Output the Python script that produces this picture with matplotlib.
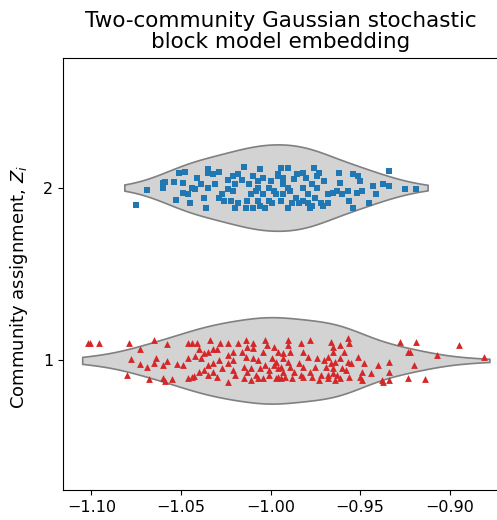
import numpy as np
import matplotlib.pyplot as plt

# Spectral embedding value per node, and the small vertical jitter used to spread the points
comm2_x = [-1.075, -1.069, -1.060, -1.060, -1.059, -1.054, -1.053, -1.051, -1.048, -1.049,
           -1.049, -1.046, -1.045, -1.041, -1.044, -1.042, -1.039, -1.035, -1.035, -1.032,
           -1.029, -1.035, -1.037, -1.036, -1.031, -1.029, -1.027, -1.026, -1.024, -1.024,
           -1.015, -1.021, -1.018, -1.016, -1.020, -1.022, -1.018, -1.020, -1.012, -1.011,
           -1.013, -1.014, -1.010, -1.006, -1.004, -1.007, -1.004, -1.007, -1.006, -1.003,
           -1.000, -1.001, -0.998, -1.001, -0.999, -0.994, -0.996, -0.993, -0.993, -0.990,
           -0.993, -0.994, -0.990, -0.987, -0.985, -0.989, -0.986, -0.988, -0.982, -0.980,
           -0.982, -0.979, -0.982, -0.979, -0.976, -0.974, -0.977, -0.974, -0.975, -0.972,
           -0.977, -0.970, -0.968, -0.968, -1.010, -1.007, -1.008, -0.990, -0.996, -0.997,
           -0.984, -0.978, -0.973, -0.971, -1.021, -0.965, -0.963, -0.962, -0.961, -0.960,
           -0.957, -0.956, -0.954, -0.951, -0.950, -0.949, -0.952, -0.954, -0.945, -0.943,
           -0.941, -0.937, -0.934, -0.934, -0.925, -0.919]
comm2_jit = [-0.098, -0.012, 0.000, 0.029, 0.035, 0.035, -0.069, 0.087, 0.092, 0.029,
             -0.029, -0.035, -0.087, 0.058, 0.000, -0.006, 0.023, 0.110, 0.087, 0.081,
             0.092, 0.000, -0.058, -0.116, 0.023, -0.058, -0.035, -0.075, 0.046, -0.006,
             0.121, 0.069, 0.081, 0.046, 0.023, -0.075, -0.092, -0.121, 0.023, -0.035,
             -0.075, -0.116, -0.121, 0.110, 0.058, 0.000, -0.035, -0.075, -0.104, -0.121,
             0.040, 0.000, -0.017, -0.075, -0.092, 0.116, 0.069, 0.058, 0.023, 0.000,
             -0.035, -0.075, -0.116, 0.052, 0.081, -0.017, -0.058, -0.092, 0.087, 0.058,
             0.000, -0.035, -0.075, -0.092, 0.116, 0.069, 0.023, 0.000, -0.058, -0.087,
             -0.104, 0.040, -0.035, -0.092, 0.069, 0.040, -0.017, 0.116, 0.081, -0.035,
             -0.087, -0.116, 0.087, -0.104, -0.017, -0.029, -0.017, 0.087, 0.029, -0.035,
             -0.017, -0.075, 0.081, 0.069, 0.040, -0.017, -0.029, -0.116, -0.087, 0.012,
             -0.035, 0.023, 0.012, 0.098, -0.006, -0.006]

comm1_x = [-1.102, -1.101, -1.096, -1.079, -1.073, -1.065, -1.058, -1.078, -1.073, -1.080,
           -1.068, -1.069, -1.064, -1.065, -1.060, -1.058, -1.052, -1.049, -1.060, -1.059,
           -1.055, -1.046, -1.044, -1.041, -1.040, -1.046, -1.046, -1.044, -1.043, -1.042,
           -1.039, -1.037, -1.035, -1.034, -1.032, -1.030, -1.028, -1.035, -1.032, -1.040,
           -1.037, -1.035, -1.032, -1.030, -1.024, -1.029, -1.027, -1.024, -1.024, -1.024,
           -1.021, -1.021, -1.020, -1.021, -1.018, -1.014, -1.013, -1.016, -1.014, -1.015,
           -1.013, -1.015, -1.011, -1.010, -1.010, -1.010, -1.011, -1.008, -1.007, -1.006,
           -1.007, -1.004, -1.003, -1.002, -1.004, -1.003, -1.001, -1.001, -0.998, -0.996,
           -0.999, -0.997, -0.998, -0.996, -0.997, -0.996, -0.993, -0.993, -0.994, -0.993,
           -0.992, -0.994, -0.990, -0.990, -0.989, -0.990, -0.989, -0.987, -0.988, -0.983,
           -0.982, -0.984, -0.982, -0.983, -0.982, -0.978, -0.979, -0.978, -0.977, -0.974,
           -0.975, -0.972, -0.973, -0.970, -0.969, -0.968, -0.968, -0.966, -0.965, -0.965,
           -0.968, -0.966, -0.964, -0.965, -0.963, -0.964, -0.961, -0.959, -0.961, -0.960,
           -0.958, -0.961, -0.957, -0.956, -0.965, -0.957, -0.956, -0.955, -0.951, -0.949,
           -0.950, -0.949, -0.948, -0.944, -0.940, -0.938, -0.937, -0.934, -0.934, -0.934,
           -0.928, -0.919, -0.923, -0.922, -0.920, -0.923, -0.914, -0.907, -0.895, -0.881]
comm1_jit = [0.098, 0.098, 0.098, 0.098, 0.064, 0.116, 0.092, 0.006, -0.023, -0.087,
             -0.110, -0.040, 0.012, -0.017, -0.029, -0.006, -0.023, -0.029, -0.104, -0.121,
             -0.110, 0.098, 0.098, 0.098, 0.064, 0.012, -0.104, -0.098, -0.092, 0.023,
             0.012, 0.040, 0.046, 0.116, 0.064, 0.064, 0.098, -0.029, -0.017, -0.069,
             -0.058, -0.087, -0.069, -0.098, -0.127, 0.000, -0.046, 0.029, 0.098, -0.017,
             0.000, -0.058, -0.087, 0.046, 0.098, 0.116, 0.075, 0.046, 0.017, -0.040,
             -0.069, -0.104, -0.116, 0.098, 0.069, 0.012, -0.046, -0.087, 0.000, -0.046,
             -0.104, -0.104, 0.116, 0.087, 0.046, -0.029, -0.058, -0.087, 0.075, 0.046,
             0.012, -0.012, -0.029, -0.046, -0.104, -0.098, 0.040, 0.012, -0.040, -0.069,
             -0.098, -0.104, 0.116, 0.087, 0.046, -0.012, -0.040, -0.069, -0.104, 0.098,
             0.046, -0.017, -0.040, -0.087, -0.098, 0.116, 0.017, -0.069, -0.098, 0.012,
             -0.040, -0.087, -0.116, 0.000, -0.040, -0.087, -0.104, 0.104, 0.075, 0.046,
             0.017, -0.017, -0.012, -0.046, -0.087, -0.116, 0.087, 0.046, 0.012, -0.046,
             -0.058, -0.104, 0.127, 0.098, -0.075, -0.012, -0.098, -0.017, 0.017, -0.069,
             -0.098, -0.116, -0.017, -0.075, -0.029, -0.116, -0.127, -0.012, -0.069, -0.116,
             0.104, 0.104, 0.046, 0.046, -0.029, -0.104, -0.110, 0.029, 0.087, 0.017]

communities = [1, 2]
tick_labels = ["1", "2"]


def violin(ax, values, pos, half_width=0.25, cut=0.5):
    # gaussian KDE, Scott bandwidth, a little past the data range
    v = np.asarray(values)
    bw = v.std(ddof=1) * len(v) ** (-1 / 5)
    grid = np.linspace(v.min() - cut * bw, v.max() + cut * bw, 300)
    dens = np.exp(-0.5 * ((grid[:, None] - v[None, :]) / bw) ** 2).sum(axis=1)
    dens = dens / dens.max() * half_width
    ax.fill_between(grid, pos - dens, pos + dens, facecolor="lightgray",
                    edgecolor="gray", linewidth=1.2, zorder=1)


fig = plt.figure(figsize=(4.97, 5.2), dpi=100)
ax = fig.add_axes([0.1268, 0.0577, 0.876, 0.8308])

violin(ax, comm1_x, communities[0], cut=0.2)
violin(ax, comm2_x, communities[1], cut=0.5)

ax.scatter(comm1_x, [1 + j for j in comm1_jit], marker="^", s=24,
           color="#d62728", zorder=3, linewidths=0)
ax.scatter(comm2_x, [2 + j for j in comm2_jit], marker="s", s=22,
           color="#1f77b4", zorder=3, linewidths=0)

ax.set_xlim(-1.1159, -0.8728)
ax.set_ylim(0.25, 2.75)
ax.set_yticks(communities)
ax.set_yticklabels(tick_labels)
ax.set_xticks([-1.10, -1.05, -1.00, -0.95, -0.90])
ax.tick_params(labelsize=11.5)
ax.set_ylabel("Community assignment, $Z_i$", fontsize=13)
ax.yaxis.set_label_coords(-0.075, 0.47)
ax.set_title("Two-community Gaussian stochastic\nblock model embedding",
             fontsize=15.5, linespacing=1.05, pad=7)

plt.savefig("out.png", dpi=100)
